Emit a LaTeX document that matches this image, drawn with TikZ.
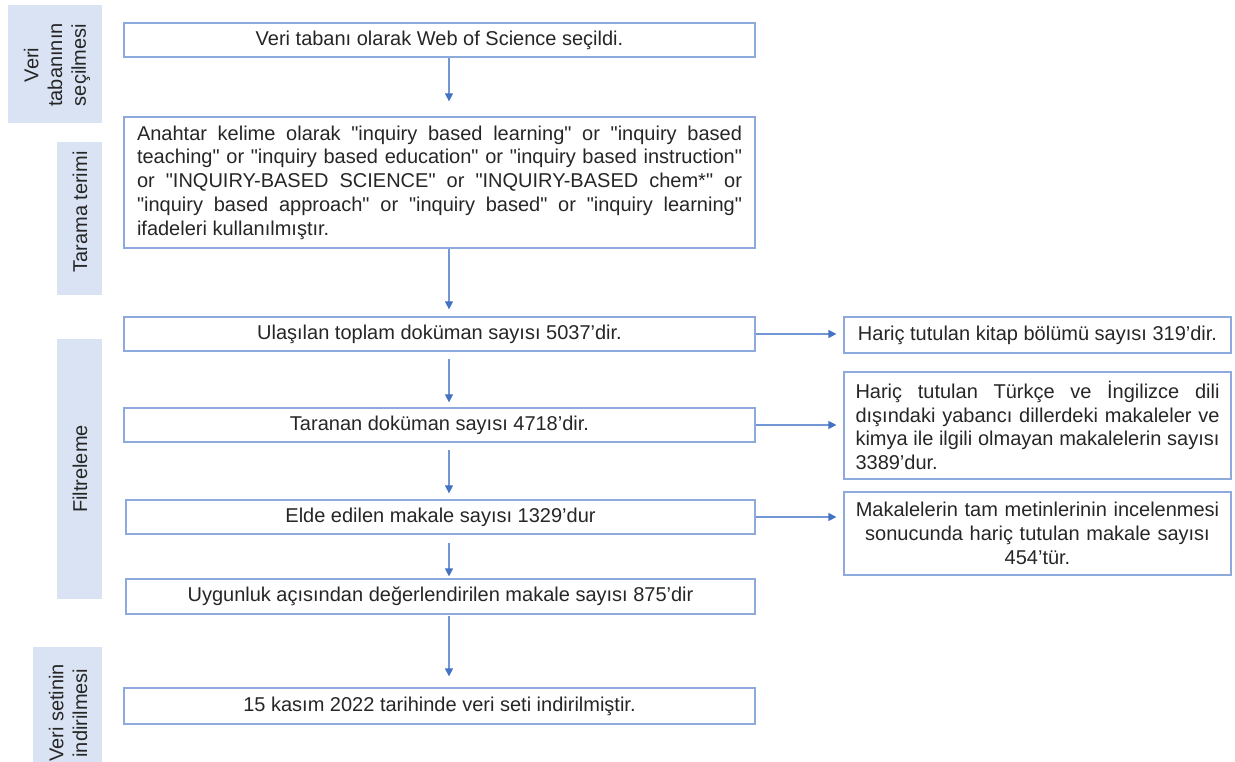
\documentclass[tikz,border=0pt]{standalone}
\usepackage{fontspec}
\setmainfont{Liberation Sans}
% same face without the TeX input mapping, for straight double quotes
\newfontfamily\qfont{Liberation Sans}[Ligatures=ResetAll]
\usetikzlibrary{arrows.meta}
\definecolor{barfill}{HTML}{DAE3F3}
\definecolor{boxline}{HTML}{8EA9DB}
\definecolor{arrline}{HTML}{7396D4}
\definecolor{arrtip}{HTML}{4472C4}
\definecolor{ink}{HTML}{262626}
\newcommand\dq{{\qfont"}}

\begin{document}
\begin{tikzpicture}[x=0.75pt,y=-0.75pt,
  every node/.style={font=\fontsize{15}{17.8}\selectfont, text=ink},
  stagebar/.style={fill=barfill, draw=none},
  stagelabel/.style={rotate=90, align=center, inner sep=0pt},
  stepbox/.style={draw=boxline, line width=0.9pt, minimum width=473.25pt,
    minimum height=25.5pt, inner sep=0pt, align=center},
  sidebox/.style={draw=boxline, line width=0.9pt, minimum width=290.25pt,
    inner sep=0pt},
  arr/.style={draw=arrline, line width=0.9pt,
    -{Triangle[length=6pt,width=6pt,color=arrtip]}}
]
\useasboundingbox (0,0) rectangle (1235,762);

% stage bars on the left
\path[stagebar] (8,5) rectangle (102,123);
\path[stagebar] (57,142) rectangle (102,295);
\path[stagebar] (57,339) rectangle (102,599);
\path[stagebar] (33,647) rectangle (102,762);

\node[stagelabel] (s1) at (57,65) {Veri\\tabanının\\seçilmesi};
\node[stagelabel] (s2) at (80,212) {Tarama terimi};
\node[stagelabel] (s3) at (80,469) {Filtreleme};
\node[stagelabel] (s4) at (68,713) {Veri setinin\\indirilmesi};

% main steps
\node[stepbox] (b1) at (439.5,40) {Veri tabanı olarak Web of Science seçildi.};
\node[stepbox, minimum height=98.25pt, text width=453.75pt, align=justify]
  (b2) at (439.5,182.5)
  {Anahtar kelime olarak \dq inquiry based learning\dq{} or \dq inquiry based\linebreak
   teaching\dq{} or \dq inquiry based education\dq{} or \dq inquiry based instruction\dq\linebreak
   or \dq INQUIRY-BASED SCIENCE\dq{} or \dq INQUIRY-BASED chem*\dq{} or\linebreak
   \dq inquiry based approach\dq{} or \dq inquiry based\dq{} or \dq inquiry learning\dq\linebreak
   ifadeleri kullanılmıştır.};
\node[stepbox] (b3) at (439.5,334) {Ulaşılan toplam doküman sayısı 5037'dir.};
\node[stepbox] (b4) at (439.5,425) {Taranan doküman sayısı 4718'dir.};
\node[stepbox, minimum width=471.75pt] (b5) at (440.5,517) {Elde edilen makale sayısı 1329'dur};
\node[stepbox, minimum width=471.75pt, minimum height=26.25pt] (b6) at (440.5,596.5)
  {Uygunluk açısından değerlendirilen makale sayısı 875'dir};
\node[stepbox, minimum height=27pt] (b7) at (439.5,706)
  {15 kasım 2022 tarihinde veri seti indirilmiştir.};

% exclusions on the right
\node[sidebox, minimum height=27pt] (r1) at (1037.5,335)
  {Hariç tutulan kitap bölümü sayısı 319'dir.};
\node[sidebox, minimum height=80.25pt, text width=273pt, align=justify] (r2) at (1037.5,425.5)
  {Hariç tutulan Türkçe ve İngilizce dili\linebreak
   dışındaki yabancı dillerdeki makaleler ve\linebreak
   kimya ile ilgili olmayan makalelerin sayısı\linebreak
   3389'dur.};
\node[sidebox, minimum height=62.25pt, text width=273pt, align=center] (r3) at (1037.5,533.5)
  {Makalelerin tam metinlerinin incelenmesi\\
   sonucunda hariç tutulan makale sayısı\\
   454'tür.};

% flow axis
\coordinate (ax) at (449,0);

\draw[arr, shorten >=11.25pt] (b1.south -| ax) -- (b2.north -| ax);
\draw[arr, shorten >=5.25pt] (b2.south -| ax) -- (b3.north -| ax);
\draw[arr, shorten <=5.25pt, shorten >=3.75pt] (b3.south -| ax) -- (b4.north -| ax);
\draw[arr, shorten <=5.25pt, shorten >=4.5pt] (b4.south -| ax) -- (b5.north -| ax);
\draw[arr, shorten <=6pt, shorten >=1.5pt] (b5.south -| ax) -- (b6.north -| ax);
\draw[arr, shorten <=0.75pt, shorten >=8.25pt] (b6.south -| ax) -- (b7.north -| ax);

\draw[arr, shorten >=5.25pt] (b3.east) -- (b3.east -| r1.west);
\draw[arr, shorten >=5.25pt] (b4.east) -- (b4.east -| r2.west);
\draw[arr, shorten >=5.25pt] (b5.east) -- (b5.east -| r3.west);
\end{tikzpicture}
\end{document}
